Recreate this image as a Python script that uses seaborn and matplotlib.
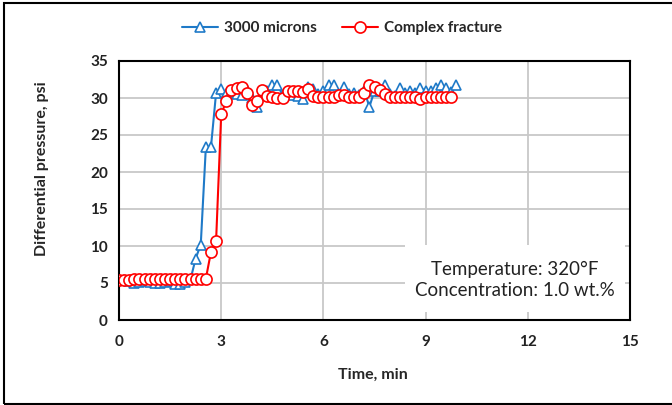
import numpy as np
import pandas as pd
import matplotlib
matplotlib.use("Agg")
import matplotlib.pyplot as plt
from matplotlib.patches import Rectangle
import seaborn as sns

# ---- data ----
step = 0.15
blue_vals = [5.4, 5.4, 5.3, 5.0, 5.2, 5.3, 5.1, 5.0, 5.0, 5.2, 5.3, 4.9, 4.9, 5.2, 5.5,
             8.3, 10.2, 23.4, 23.4, 30.7, 31.2, 30.6, 30.8, 30.5, 30.4, 31.1, 30.0, 28.8,
             30.4, 31.0, 31.8, 31.8, 30.4, 30.9, 30.4, 30.3, 29.9, 31.5, 31.2, 30.6, 31.0,
             31.8, 31.8, 30.4, 31.5, 30.6, 30.7, 30.4, 31.0, 28.8, 31.0, 31.0, 31.8, 30.5,
             30.3, 31.3, 30.7, 30.9, 30.7, 31.3, 31.0, 31.0, 31.3, 31.8, 31.3, 30.8, 31.8]
red_vals = [5.4, 5.4, 5.4, 5.5, 5.5, 5.5, 5.5, 5.6, 5.6, 5.6, 5.6, 5.6, 5.6, 5.6, 5.6,
            5.6, 5.6, 5.6, 9.2, 10.7, 27.8, 29.6, 31.1, 31.3, 31.5, 30.7, 29.1, 29.6,
            31.1, 30.3, 30.2, 30.0, 30.0, 31.0, 30.9, 31.0, 30.8, 31.2, 30.3, 30.1, 30.1,
            30.2, 30.2, 30.4, 30.4, 30.2, 30.1, 30.1, 30.7, 31.7, 31.5, 31.1, 30.6, 30.2,
            30.2, 30.2, 30.2, 30.2, 30.2, 29.9, 30.2, 30.2, 30.2, 30.2, 30.2, 30.2]
blue_t = [round(i * step, 2) for i in range(len(blue_vals))]
red_t = [round(i * step, 2) for i in range(len(red_vals))]
series_names = ["3000 microns", "Complex fracture"]
xticks = [0, 3, 6, 9, 12, 15]
yticks = [0, 5, 10, 15, 20, 25, 30, 35]

blue_df = pd.DataFrame({"t": blue_t, "p": blue_vals})
red_df = pd.DataFrame({"t": red_t, "p": red_vals})

sns.set_style("white")
plt.rcParams["font.family"] = ["Lato", "DejaVu Sans"]

fig = plt.figure(figsize=(6.72, 4.05), dpi=100)
fig.patches.append(Rectangle((4 / 672, 1 / 405), 1.0, (405 - 4) / 405,
                             transform=fig.transFigure, fill=False,
                             edgecolor="black", linewidth=1.5))
ax = fig.add_axes([119 / 672, 1 - 320 / 405, (630 - 119) / 672, (320 - 61) / 405])

BLUE = "#1f7ac8"
RED = "#ff0000"

sns.lineplot(data=blue_df, x="t", y="p", ax=ax, color=BLUE, marker="^",
             markersize=7, markerfacecolor="white", markeredgecolor=BLUE,
             markeredgewidth=1.2, linewidth=1.5, label=series_names[0], zorder=3)
sns.lineplot(data=red_df, x="t", y="p", ax=ax, color=RED, marker="o",
             markersize=8, markerfacecolor="white", markeredgecolor=RED,
             markeredgewidth=1.2, linewidth=1.5, label=series_names[1], zorder=4)

ax.set_xlim(0, 15)
ax.set_ylim(0, 35)
ax.set_xticks(xticks)
ax.set_yticks(yticks)
ax.grid(True, color="#c8c8c8", linewidth=1.3)
ax.set_axisbelow(True)
for s in ax.spines.values():
    s.set_color("black")
    s.set_linewidth(1.5)
ax.tick_params(length=0, labelsize=11, pad=8)
ax.tick_params(axis="x", pad=11)
for lab in ax.get_xticklabels() + ax.get_yticklabels():
    lab.set_fontweight("bold")
    lab.set_color("#222222")

ax.set_xlabel("Time, min", fontsize=11.5, fontweight="bold")
ax.set_ylabel("Differential pressure, psi", fontsize=11.5, fontweight="bold")
ax.xaxis.set_label_coords((373 - 119) / 511, (320 - 375) / 259)
ax.yaxis.set_label_coords((42 - 119) / 511, (320 - 169) / 259)
ax.xaxis.label.set_va("center")
ax.yaxis.label.set_va("center")

# white text box covering the grid (in axes-fraction coordinates)
ax.add_patch(Rectangle(((405 - 119) / 511, (320 - 312) / 259), (625 - 405) / 511, (312 - 245) / 259,
                       transform=ax.transAxes, facecolor="white", edgecolor="none", zorder=2))
ax.text((515 - 119) / 511, (320 - 280) / 259, "Temperature: 320°F\nConcentration: 1.0 wt.%",
        transform=ax.transAxes, ha="center", va="center", fontsize=13.5, linespacing=1.25,
        color="#222222", zorder=5)

leg = ax.legend(loc="center", bbox_to_anchor=(342 / 672, 1 - 28 / 405), bbox_transform=fig.transFigure,
                ncol=2, frameon=False, fontsize=11, handlelength=2.4, columnspacing=1.6,
                handletextpad=0.4)
for t in leg.get_texts():
    t.set_fontweight("bold")

fig.savefig("out.png", dpi=100)
